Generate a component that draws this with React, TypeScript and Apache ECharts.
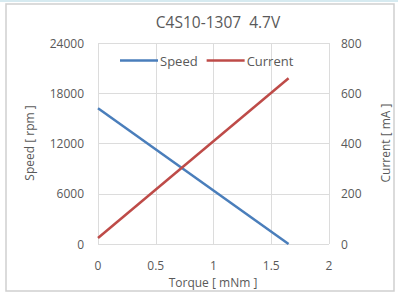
import React, { useEffect, useRef } from "react";
import * as echarts from "echarts";

const torque = [0, 1.65];
const speed = [16200, 0];
const current = [24, 660];
const xTicks = [0, 0.5, 1, 1.5, 2];
const speedTicks = [0, 6000, 12000, 18000, 24000];
const currentTicks = [0, 200, 400, 600, 800];
const xName = "Torque [ mNm ]";
const leftName = "Speed [ rpm ]";
const rightName = "Current [ mA ]";

const FONT = "'Open Sans', 'Noto Sans', sans-serif";
const GRAY = "#595959";

export default function App() {
  const ref = useRef<HTMLDivElement>(null);
  useEffect(() => {
    if (!ref.current) return;
    const chart = echarts.init(ref.current, undefined, { renderer: "svg" });
    const plain = (v: number) => String(v);
    const nameStyle = { fontFamily: FONT, fontSize: 12, fill: GRAY, align: "center", verticalAlign: "middle" };
    chart.setOption({
      animation: false,
      backgroundColor: "#ffffff",
      title: {
        text: "C4S10-1307  4.7V",
        left: 213,
        textAlign: "center",
        top: 9,
        textStyle: { fontFamily: FONT, fontSize: 15.5, fontWeight: "normal", color: GRAY },
      },
      graphic: [
        { type: "rect", shape: { x: 0, y: 0, width: 398, height: 2 }, style: { fill: "#d6eaf0" }, silent: true },
        { type: "rect", shape: { x: 6, y: 4, width: 388, height: 287 }, style: { fill: "none", stroke: "#d0d0d0", lineWidth: 1.5 }, silent: true },
        { type: "text", x: 213, y: 282, style: { ...nameStyle, text: xName }, silent: true },
        { type: "text", x: 29, y: 143, rotation: Math.PI / 2, style: { ...nameStyle, text: leftName }, silent: true },
        { type: "text", x: 385, y: 143, rotation: Math.PI / 2, style: { ...nameStyle, text: rightName }, silent: true },
      ],
      legend: {
        top: 49,
        left: 115,
        itemWidth: 38,
        itemHeight: 2.5,
        itemGap: 9,
        icon: "rect",
        textStyle: { fontFamily: FONT, fontSize: 13, color: GRAY, padding: [0, 0, 0, -3] },
        data: ["Speed", "Current"],
      },
      grid: { left: 98, right: 69, top: 43, bottom: 52, containLabel: false },
      xAxis: {
        type: "value",
        min: xTicks[0],
        max: xTicks[xTicks.length - 1],
        interval: 0.5,
        axisLine: { show: false },
        axisTick: { show: false },
        axisLabel: { fontFamily: FONT, fontSize: 12, color: GRAY, margin: 15, formatter: plain },
        splitLine: { show: true, lineStyle: { color: "#dcdcdc", width: 1 } },
      },
      yAxis: [
        {
          type: "value",
          min: speedTicks[0],
          max: speedTicks[speedTicks.length - 1],
          interval: 6000,
          axisLine: { show: false },
          axisTick: { show: false },
          axisLabel: { fontFamily: FONT, fontSize: 12, color: GRAY, margin: 14, formatter: plain },
          splitLine: { show: true, lineStyle: { color: "#dcdcdc", width: 1 } },
        },
        {
          type: "value",
          min: currentTicks[0],
          max: currentTicks[currentTicks.length - 1],
          interval: 200,
          axisLine: { show: false },
          axisTick: { show: false },
          axisLabel: { fontFamily: FONT, fontSize: 12, color: GRAY, margin: 12, formatter: plain },
          splitLine: { show: false },
        },
      ],
      series: [
        {
          name: "Speed",
          type: "line",
          yAxisIndex: 0,
          showSymbol: false,
          symbol: "none",
          lineStyle: { color: "#4a7ebb", width: 2.5 },
          itemStyle: { color: "#4a7ebb" },
          data: torque.map((t, i) => [t, speed[i]]),
        },
        {
          name: "Current",
          type: "line",
          yAxisIndex: 1,
          showSymbol: false,
          symbol: "none",
          lineStyle: { color: "#be4b48", width: 2.5 },
          itemStyle: { color: "#be4b48" },
          data: torque.map((t, i) => [t, current[i]]),
        },
      ],
    });
    return () => chart.dispose();
  }, []);
  return (
    <div
      ref={ref}
      style={{ position: "fixed", left: 0, top: 0, width: 398, height: 296 }}
    />
  );
}
